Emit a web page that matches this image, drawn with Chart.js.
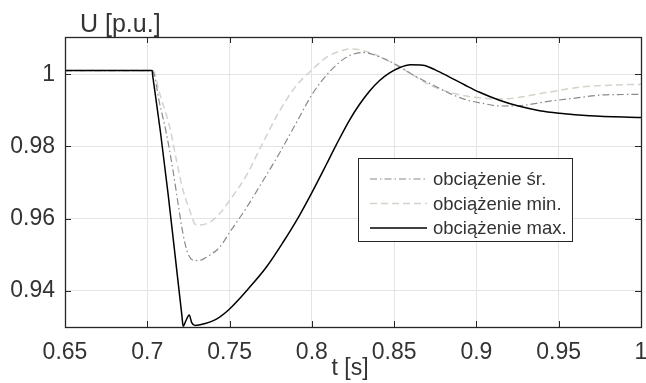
<!DOCTYPE html>
<html>
<head>
<meta charset="utf-8">
<script src="https://cdn.jsdelivr.net/npm/chart.js@4"></script>
<style>
  html, body { margin: 0; padding: 0; background: #fff; }
  #wrap { width: 646px; height: 383px; }
</style>
</head>
<body>
<div id="wrap"><canvas id="uChart" width="646" height="383"></canvas></div>
<script>
// Axis ticks
const xTicks = [0.65, 0.7, 0.75, 0.8, 0.85, 0.9, 0.95, 1];
const yTicks = [0.94, 0.96, 0.98, 1];

// Legend labels (legend order)
const seriesLabels = ['obciążenie śr.', 'obciążenie min.', 'obciążenie max.'];

// obciążenie śr. (dash-dot, gray)
const tAvg = [0.65, 0.7030, 0.7075, 0.7116, 0.7156, 0.7187, 0.7217, 0.7247, 0.7288, 0.7330, 0.7359,
  0.7440, 0.7500, 0.7602, 0.7703, 0.7804, 0.7906, 0.8007, 0.8108, 0.8210, 0.8309, 0.8432, 0.8533,
  0.8635, 0.8736, 0.8837, 0.8939, 0.9040, 0.9140, 0.9263, 0.9425, 0.9587, 0.9789, 1.0];
const uAvg = [1.0010, 1.0010, 0.9919, 0.9836, 0.9734, 0.9642, 0.9558, 0.9503, 0.9484, 0.9486, 0.9493,
  0.9521, 0.9562, 0.9630, 0.9705, 0.9782, 0.9866, 0.9948, 1.0007, 1.0047, 1.0060, 1.0044, 1.0021,
  0.9993, 0.9970, 0.9947, 0.9929, 0.9919, 0.9912, 0.9913, 0.9924, 0.9933, 0.9943, 0.9944];

// obciążenie min. (dashed, light)
const tMin = [0.65, 0.7035, 0.7075, 0.7136, 0.7177, 0.7217, 0.7258, 0.7288, 0.7310, 0.7379, 0.7440,
  0.7500, 0.7600, 0.7700, 0.7800, 0.7900, 0.8000, 0.8100, 0.8169, 0.8230, 0.8331, 0.8473, 0.8594,
  0.8736, 0.8898, 0.9060, 0.9141, 0.9425, 0.9627, 0.9830, 1.0];
const uMin = [1.0010, 1.0010, 0.9947, 0.9854, 0.9762, 0.9679, 0.9623, 0.9586, 0.9582, 0.9590, 0.9614,
  0.9650, 0.9718, 0.9808, 0.9895, 0.9965, 1.0012, 1.0050, 1.0063, 1.0070, 1.0063, 1.0035, 1.0003,
  0.9966, 0.9943, 0.9933, 0.9931, 0.9949, 0.9964, 0.9970, 0.9972];

// obciążenie max. (solid black)
const tMax = [0.65, 0.7029, 0.7034, 0.7080, 0.7126, 0.7172, 0.7210, 0.7218, 0.7235, 0.7255, 0.7270,
  0.7290, 0.7320, 0.7420, 0.7500, 0.7622, 0.7724, 0.7824, 0.7926, 0.8000, 0.8088, 0.8149, 0.8229,
  0.8289, 0.8350, 0.8410, 0.8470, 0.8532, 0.8600, 0.8675, 0.8750, 0.8837, 0.8930, 0.9019, 0.9140,
  0.9262, 0.9384, 0.9505, 0.9687, 1.0];
const uMax = [1.0010, 1.0010, 0.9992, 0.9840, 0.9670, 0.9486, 0.9333, 0.9302, 0.9318, 0.9333, 0.9312,
  0.9304, 0.9306, 0.9322, 0.9350, 0.9410, 0.9466, 0.9534, 0.9610, 0.9672, 0.9750, 0.9805, 0.9873,
  0.9916, 0.9953, 0.9982, 1.0003, 1.0018, 1.0026, 1.0025, 1.0012, 0.9992, 0.9970, 0.9950, 0.9928,
  0.9911, 0.9899, 0.9892, 0.9885, 0.9880];

const FONT = "'Liberation Sans', Arial, sans-serif";
const TEXT_COLOR = '#333333';

function toPoints(ts, us) {
    return ts.map((t, i) => ({ x: t, y: us[i] }));
}

function tickLabel(v) {
    return String(+v.toFixed(2));
}

// Box, inward ticks, axis titles and legend in MATLAB style
const matlabAxes = {
    id: 'matlabAxes',
    afterDatasetsDraw(chart) {
        const { ctx, chartArea: a, scales: { x, y } } = chart;
        ctx.save();
        ctx.setLineDash([]);
        ctx.strokeStyle = '#262626';
        ctx.lineWidth = 1;

        ctx.beginPath();
        xTicks.forEach(v => {
            const px = Math.round(x.getPixelForValue(v)) + 0.5;
            ctx.moveTo(px, a.bottom); ctx.lineTo(px, a.bottom - 6);
            ctx.moveTo(px, a.top); ctx.lineTo(px, a.top + 6);
        });
        yTicks.forEach(v => {
            const py = Math.round(y.getPixelForValue(v)) + 0.5;
            ctx.moveTo(a.left, py); ctx.lineTo(a.left + 6, py);
            ctx.moveTo(a.right, py); ctx.lineTo(a.right - 6, py);
        });
        ctx.stroke();

        ctx.lineWidth = 1.3;
        ctx.strokeRect(Math.round(a.left) + 0.5, Math.round(a.top) + 0.5,
            Math.round(a.right - a.left), Math.round(a.bottom - a.top));

        // axis titles
        ctx.fillStyle = TEXT_COLOR;
        ctx.font = '25px ' + FONT;
        ctx.textAlign = 'left';
        ctx.textBaseline = 'alphabetic';
        ctx.fillText('U [p.u.]', a.left + 15, a.top - 5);
        ctx.textAlign = 'center';
        ctx.font = '23px ' + FONT;
        ctx.fillText('t [s]', (a.left + a.right) / 2 - 3, 375);

        // legend
        const box = { left: 358.5, top: 158.5, w: 214, h: 83 };
        ctx.fillStyle = '#ffffff';
        ctx.fillRect(box.left, box.top, box.w, box.h);
        ctx.strokeStyle = '#262626';
        ctx.lineWidth = 1;
        ctx.strokeRect(box.left, box.top, box.w, box.h);

        const rows = [179, 203.5, 228];
        ctx.font = '18.5px ' + FONT;
        ctx.textAlign = 'left';
        ctx.textBaseline = 'middle';
        chart.data.datasets.forEach((ds, i) => {
            const ry = rows[i];
            ctx.beginPath();
            ctx.strokeStyle = ds.borderColor;
            ctx.lineWidth = ds.borderWidth;
            ctx.setLineDash(ds.borderDash || []);
            ctx.moveTo(370, ry);
            ctx.lineTo(427, ry);
            ctx.stroke();
            ctx.fillStyle = TEXT_COLOR;
            ctx.fillText(ds.label, 433, ry + 1);
        });
        ctx.restore();
    }
};

const ctx = document.getElementById('uChart').getContext('2d');
new Chart(ctx, {
    type: 'line',
    data: {
        datasets: [
            {
                label: seriesLabels[0],
                data: toPoints(tAvg, uAvg),
                borderColor: '#8a8a8a',
                borderWidth: 1.2,
                borderDash: [7, 3, 1.5, 3],
                order: 2
            },
            {
                label: seriesLabels[1],
                data: toPoints(tMin, uMin),
                borderColor: '#d6d2ca',
                borderWidth: 1.5,
                borderDash: [7, 4],
                order: 3
            },
            {
                label: seriesLabels[2],
                data: toPoints(tMax, uMax),
                borderColor: '#000000',
                borderWidth: 1.5,
                order: 1
            }
        ]
    },
    options: {
        responsive: false,
        animation: false,
        devicePixelRatio: 1,
        elements: {
            point: { radius: 0 },
            line: { cubicInterpolationMode: 'monotone', fill: false }
        },
        layout: {
            padding: { top: 37, right: 5, left: 0, bottom: 0 }
        },
        plugins: {
            legend: { display: false },
            tooltip: { enabled: false },
            title: { display: false }
        },
        scales: {
            x: {
                type: 'linear',
                min: 0.65,
                max: 1,
                afterBuildTicks: s => { s.ticks = xTicks.map(v => ({ value: v })); },
                afterFit: s => {
                    s.height = 56;
                    s.paddingLeft = 0;
                    s.paddingRight = 0;
                },
                ticks: {
                    font: { family: FONT, size: 23 },
                    color: TEXT_COLOR,
                    padding: 12,
                    maxRotation: 0,
                    autoSkip: false,
                    callback: tickLabel
                },
                grid: { color: '#e4e4e4', drawTicks: false, lineWidth: 1 },
                border: { display: false }
            },
            y: {
                type: 'linear',
                min: 0.93,
                max: 1.0103,
                afterBuildTicks: s => { s.ticks = yTicks.map(v => ({ value: v })); },
                afterFit: s => {
                    s.width = 65;
                    s.paddingTop = 0;
                    s.paddingBottom = 0;
                },
                ticks: {
                    font: { family: FONT, size: 23 },
                    color: TEXT_COLOR,
                    padding: 10,
                    autoSkip: false,
                    callback: tickLabel
                },
                grid: { color: '#e4e4e4', drawTicks: false, lineWidth: 1 },
                border: { display: false }
            }
        }
    },
    plugins: [matlabAxes]
});
</script>
</body>
</html>
